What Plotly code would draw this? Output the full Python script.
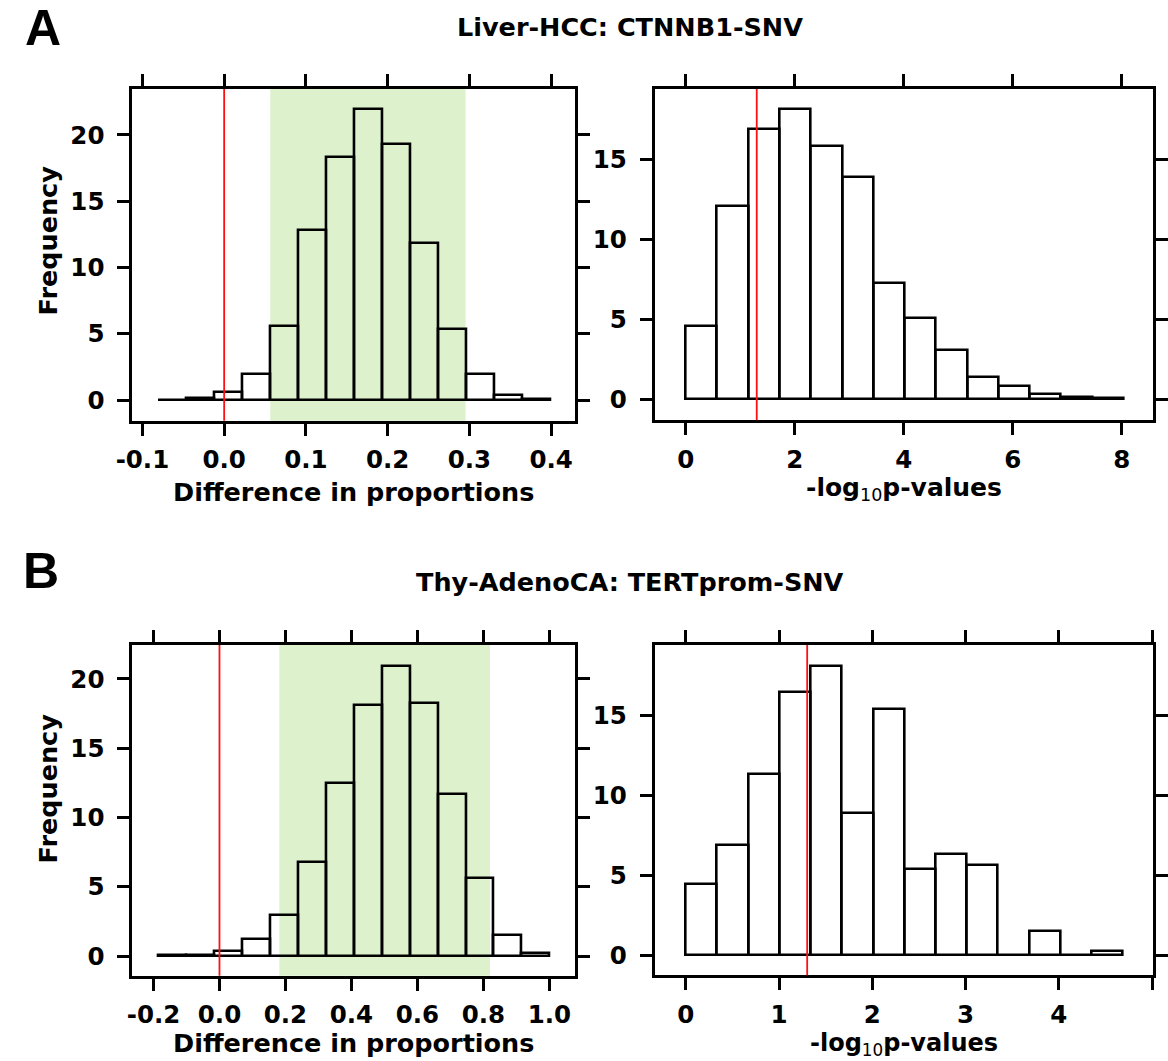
import plotly.graph_objects as go

W, H = 1168, 1061

# ---------------- DATA ----------------
# Panel A left: difference in proportions (Liver-HCC)
a_diff_start = -0.0805
a_diff_width = 0.0342
a_diff_freq = [0.04, 0.17, 0.58, 1.94, 5.58, 12.8, 18.36, 21.94, 19.32, 11.87, 5.33, 1.94, 0.4, 0.08]
a_diff_ci = [0.0564, 0.2953]
a_diff_xticks = [-0.1, 0.0, 0.1, 0.2, 0.3, 0.4]
a_diff_xlabels = ["-0.1", "0.0", "0.1", "0.2", "0.3", "0.4"]

# Panel A right: -log10 p-values
a_p_start = 0.0
a_p_width = 0.5736
a_p_freq = [4.58, 12.1, 16.93, 18.16, 15.86, 13.94, 7.25, 5.06, 3.11, 1.4, 0.84, 0.33, 0.15, 0.08]
a_p_xticks = [0, 2, 4, 6, 8]
a_p_xlabels = ["0", "2", "4", "6", "8"]

# Panel B left: difference in proportions (Thy-AdenoCA)
b_diff_start = -0.184
b_diff_width = 0.0846
b_diff_freq = [0.04, 0.1, 0.36, 1.2, 2.96, 6.76, 12.47, 18.12, 20.94, 18.24, 11.7, 5.61, 1.52, 0.24]
b_diff_ci = [0.1815, 0.820]
b_diff_xticks = [-0.2, 0.0, 0.2, 0.4, 0.6, 0.8, 1.0]
b_diff_xlabels = ["-0.2", "0.0", "0.2", "0.4", "0.6", "0.8", "1.0"]

# Panel B right: -log10 p-values
b_p_start = 0.0
b_p_width = 0.3347
b_p_freq = [4.48, 6.88, 11.31, 16.42, 18.08, 8.9, 15.37, 5.37, 6.31, 5.62, 0.03, 1.5, 0.03, 0.25]
b_p_xticks = [0, 1, 2, 3, 4, 5]
b_p_xlabels = ["0", "1", "2", "3", "4", ""]

yticks_diff = [0, 5, 10, 15, 20]
yticks_p = [0, 5, 10, 15]

sig_threshold = 1.30103   # -log10(0.05)
null_diff = 0.0

titles = ["Liver-HCC: CTNNB1-SNV", "Thy-AdenoCA: TERTprom-SNV"]
panel_letters = ["A", "B"]

# ---------------- LAYOUT HELPERS ----------------
def px_x(p):
    return p / W

def px_y(p):
    return 1 - p / H

FONT = "DejaVu Sans"
LW = 2.8

fig = go.Figure()

panels = [
    dict(start=a_diff_start, width=a_diff_width, freq=a_diff_freq,
         xr=[-0.1124, 0.4297], yr=[-1.56, 23.47], xd=(118.4, 569.7), yd=(89, 420.7),
         xt=a_diff_xticks, xl=a_diff_xlabels, yt=yticks_diff, ci=a_diff_ci, vline=null_diff),
    dict(start=a_p_start, width=a_p_width, freq=a_p_freq,
         xr=[-0.573, 8.58], yr=[-1.32, 19.42], xd=(650.3, 1158.3), yd=(89, 420.3),
         xt=a_p_xticks, xl=a_p_xlabels, yt=yticks_p, ci=None, vline=sig_threshold),
    dict(start=b_diff_start, width=b_diff_width, freq=b_diff_freq,
         xr=[-0.2643, 1.0789], yr=[-1.42, 22.45], xd=(118.4, 569.7), yd=(645, 975.7),
         xt=b_diff_xticks, xl=b_diff_xlabels, yt=yticks_diff, ci=b_diff_ci, vline=null_diff),
    dict(start=b_p_start, width=b_p_width, freq=b_p_freq,
         xr=[-0.335, 5.006], yr=[-1.25, 19.37], xd=(650.3, 1157.5), yd=(645, 975.3),
         xt=b_p_xticks, xl=b_p_xlabels, yt=yticks_p, ci=None, vline=sig_threshold),
]

shapes = []
annotations = []
layout_axes = {}

for i, p in enumerate(panels, start=1):
    xa = "x" if i == 1 else f"x{i}"
    ya = "y" if i == 1 else f"y{i}"
    centers = [p["start"] + (k + 0.5) * p["width"] for k in range(len(p["freq"]))]
    fig.add_trace(go.Bar(
        x=centers, y=p["freq"], width=[p["width"]] * len(p["freq"]),
        marker=dict(color="rgba(0,0,0,0)", line=dict(color="black", width=2.6)),
        xaxis=xa, yaxis=ya, showlegend=False, hoverinfo="skip",
    ))
    if p["ci"] is not None:
        shapes.append(dict(type="rect", xref=xa, yref=f"{ya} domain",
                           x0=p["ci"][0], x1=p["ci"][1], y0=0, y1=1,
                           fillcolor="#ddf2cc", line=dict(width=0), layer="below"))
    shapes.append(dict(type="line", xref=xa, yref=f"{ya} domain",
                       x0=p["vline"], x1=p["vline"], y0=0, y1=1,
                       line=dict(color="#ff1010", width=1.8), layer="above"))

    axis_common = dict(showline=True, linecolor="black", linewidth=LW, mirror="allticks",
                       ticks="outside", ticklen=12, tickwidth=LW, tickcolor="black",
                       showgrid=False, zeroline=False,
                       tickfont=dict(family=FONT, size=24.5, color="black", weight="bold"))
    key_x = "xaxis" if i == 1 else f"xaxis{i}"
    key_y = "yaxis" if i == 1 else f"yaxis{i}"
    layout_axes[key_x] = dict(axis_common, range=p["xr"],
                              domain=[px_x(p["xd"][0]), px_x(p["xd"][1])],
                              anchor=ya, tickmode="array", tickvals=p["xt"], ticktext=p["xl"],
                              ticklabelstandoff=3)
    layout_axes[key_y] = dict(axis_common, range=p["yr"],
                              domain=[px_y(p["yd"][1]), px_y(p["yd"][0])],
                              anchor=xa, tickmode="array", tickvals=p["yt"],
                              ticktext=[str(v) for v in p["yt"]], ticklabelstandoff=8)

# axis titles
xlab_diff = "<b>Difference in proportions</b>"
xlab_p = "<b>-log</b><sub>10</sub><b>p-values</b>"
ylab = "<b>Frequency</b>"

for (cx, cy, txt, ang, fs) in [
    (344, 492, xlab_diff, 0, 25.5), (904.5, 489, xlab_p, 0, 25),
    (344, 1043, xlab_diff, 0, 25.5), (904, 1044, xlab_p, 0, 24),
    (33, 240, ylab, -90, 25.5), (33, 788, ylab, -90, 25.5),
]:
    annotations.append(dict(x=px_x(cx), y=px_y(cy), xref="paper", yref="paper",
                            text=txt, showarrow=False, textangle=ang,
                            xanchor="center", yanchor="middle",
                            font=dict(family=FONT, size=fs, color="black")))

# titles
for (cx, cy, txt) in [(625.5, 27, titles[0]), (625.5, 582, titles[1])]:
    annotations.append(dict(x=px_x(cx), y=px_y(cy), xref="paper", yref="paper",
                            text=f"<b>{txt}</b>", showarrow=False,
                            xanchor="center", yanchor="middle",
                            font=dict(family=FONT, size=25.5, color="black")))

# panel letters
for (cx, cy, txt) in [(27, 28, panel_letters[0]), (25, 571, panel_letters[1])]:
    annotations.append(dict(x=px_x(cx), y=px_y(cy), xref="paper", yref="paper",
                            text=f"<b>{txt}</b>", showarrow=False,
                            xanchor="center", yanchor="middle",
                            font=dict(family="Liberation Sans", size=50, color="black")))

fig.update_layout(
    width=W, height=H, margin=dict(l=0, r=0, t=0, b=0),
    paper_bgcolor="white", plot_bgcolor="white",
    shapes=shapes, annotations=annotations, bargap=0,
    **layout_axes,
)

fig.write_html("out.html")
